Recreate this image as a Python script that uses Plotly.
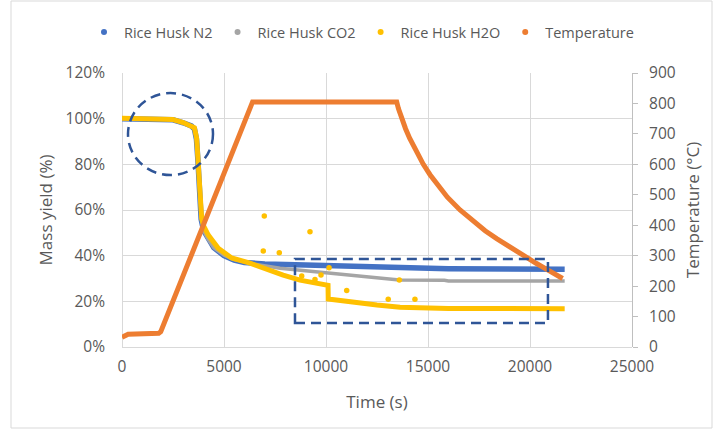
import plotly.graph_objects as go

# ---------------- data ----------------
n2_time = [0, 1000, 2000, 2500, 3000, 3400, 3550, 3650, 3720, 3800, 3880, 4000, 4200,
           4500, 5000, 5500, 6000, 7000, 9000, 12000, 15800, 16000, 21700]
n2_yield = [100, 100, 99.8, 99.5, 98.2, 96.8, 95.5, 91, 82, 67, 56, 51, 47.5,
            43.5, 40, 38, 37, 36.4, 35.9, 35.2, 34.7, 34.3, 34.0]

co2_time = [0, 1000, 2000, 2500, 3000, 3400, 3550, 3650, 3720, 3800, 3880, 4000, 4200,
            4500, 5000, 5500, 6000, 6500, 7750, 8725, 10200, 11500, 12500, 13600,
            15800, 16000, 21700]
co2_yield = [100, 100, 99.8, 99.5, 98.2, 96.8, 95.5, 91, 82, 67, 56, 51, 47.5,
             43.5, 40.2, 38.3, 37.2, 36.3, 34.5, 33.6, 32.4, 31.2, 30.2, 29.3,
             29.2, 28.9, 28.9]

h2o_time = [0, 1000, 2000, 2500, 3000, 3400, 3550, 3660, 3740, 3825, 3905, 4000, 4230,
            4720, 5050, 5375, 6275, 7000, 7900, 8725, 9500, 10100, 10110, 10500,
            11000, 11825, 12500, 13630, 14500, 16000, 21700]
h2o_yield = [100.2, 100, 99.8, 99.6, 98.3, 97, 96, 91.4, 81.2, 66.6, 56.4, 53, 49,
             43.2, 41, 39, 36.7, 34.2, 31.5, 29.3, 28.2, 27, 21, 20.5,
             20, 19.1, 18.4, 17.4, 17.1, 16.9, 16.8]

h2o_outlier_time = [6925, 6975, 7710, 8810, 9215, 9460, 9755, 10150, 11015, 13050, 13595, 14360]
h2o_outlier_yield = [42, 57.4, 41.3, 31.1, 50.5, 29.6, 31.5, 34.7, 24.7, 20.9, 29.3, 20.9]

temp_time = [0, 300, 1800, 1900, 6400, 13466, 13550, 13630, 13710, 13900, 14100, 14300,
             14500, 14770, 15100, 15500, 15950, 16570, 17200, 17800, 18365, 19000,
             19670, 20300, 20950, 21600]
temp_value = [32, 42, 45, 50, 805, 805, 783, 765, 750, 717, 686, 658,
              632, 600, 566, 529, 492, 450, 413, 382, 356, 328,
              300, 275, 250, 225]

x_ticks = [0, 5000, 10000, 15000, 20000, 25000]

# ---------------- styles ----------------
BLUE = "#4472C4"
GRAY = "#A5A5A5"
YELLOW = "#FFC000"
ORANGE = "#ED7D31"
DARKBLUE = "#2F5597"
GRID = "#D9D9D9"
TXT = "#595959"
FONT = "'Open Sans', Lato, sans-serif"

fig = go.Figure()

fig.add_trace(go.Scatter(x=n2_time, y=n2_yield, mode="lines",
                         line=dict(color=BLUE, width=5.5), showlegend=False, yaxis="y"))
fig.add_trace(go.Scatter(x=co2_time, y=co2_yield, mode="lines",
                         line=dict(color=GRAY, width=3.5), showlegend=False, yaxis="y"))
fig.add_trace(go.Scatter(x=h2o_time, y=h2o_yield, mode="lines",
                         line=dict(color=YELLOW, width=5), showlegend=False, yaxis="y"))
fig.add_trace(go.Scatter(x=h2o_outlier_time, y=h2o_outlier_yield, mode="markers",
                         marker=dict(color=YELLOW, size=5.5), showlegend=False, yaxis="y"))
fig.add_trace(go.Scatter(x=temp_time, y=temp_value, mode="lines",
                         line=dict(color=ORANGE, width=5),
                         showlegend=False, yaxis="y2"))

# legend entries (marker dots like the original)
for name, col in [("Rice Husk N2", BLUE), ("Rice Husk CO2", GRAY),
                  ("Rice Husk H2O", YELLOW), ("Temperature", ORANGE)]:
    fig.add_trace(go.Scatter(x=[None], y=[None], mode="markers", name=name,
                             marker=dict(color=col, size=6)))

fig.update_layout(
    width=721, height=433,
    margin=dict(l=122, r=89, t=73, b=86, autoexpand=False),
    paper_bgcolor="white", plot_bgcolor="white",
    font=dict(family=FONT, size=15.5, color=TXT),
    legend=dict(orientation="h", xref="paper", yref="paper",
                x=(84 - 122) / 510, xanchor="left", y=1 + (73 - 32) / 274, yanchor="middle",
                itemwidth=30, font=dict(size=14.5, color=TXT), bgcolor="rgba(0,0,0,0)"),
    xaxis=dict(range=[0, 25000], tickvals=x_ticks, tickformat="d", showgrid=True,
               gridcolor=GRID, zeroline=True, zerolinecolor=GRID, zerolinewidth=1,
               showline=False, ticks="", ticklabelstandoff=8, automargin=False,
               title=dict(text="Time (s)", font=dict(size=17, color=TXT), standoff=20)),
    yaxis=dict(range=[0, 120], dtick=20, ticksuffix="%", showgrid=True, gridcolor=GRID,
               zeroline=True, zerolinecolor=GRID, zerolinewidth=1, showline=False,
               ticks="", ticklabelstandoff=16, automargin=False,
               title=dict(text="Mass yield (%)", font=dict(size=17, color=TXT), standoff=8)),
    yaxis2=dict(range=[0, 900], dtick=100, overlaying="y", side="right", showgrid=False,
                zeroline=False, showline=True, linecolor="#BFBFBF", linewidth=1,
                ticks="outside", ticklen=5, tickcolor="#BFBFBF", ticklabelstandoff=8,
                automargin=False,
                title=dict(text="Temperature (°C)", font=dict(size=17, color=TXT), standoff=12)),
    shapes=[
        dict(type="circle", xref="x", yref="y", x0=294, x1=4461, y0=75.3, y1=111.2,
             line=dict(color=DARKBLUE, width=2.5, dash="10px,6px"), layer="above"),
        dict(type="rect", xref="x", yref="y", x0=8480, x1=20880, y0=10.5, y1=38.5,
             line=dict(color=DARKBLUE, width=2.5, dash="10px,6px"), layer="above"),
        dict(type="rect", xref="paper", yref="paper",
             x0=(11 - 122) / 510, x1=(712 - 122) / 510,
             y0=(347 - 428) / 274, y1=(347 - 1) / 274,
             line=dict(color=GRID, width=1), layer="below"),
    ],
)

fig.write_html("out.html", config={"displayModeBar": False},
               post_script="document.body.style.margin='0';document.body.style.overflow='hidden';")
